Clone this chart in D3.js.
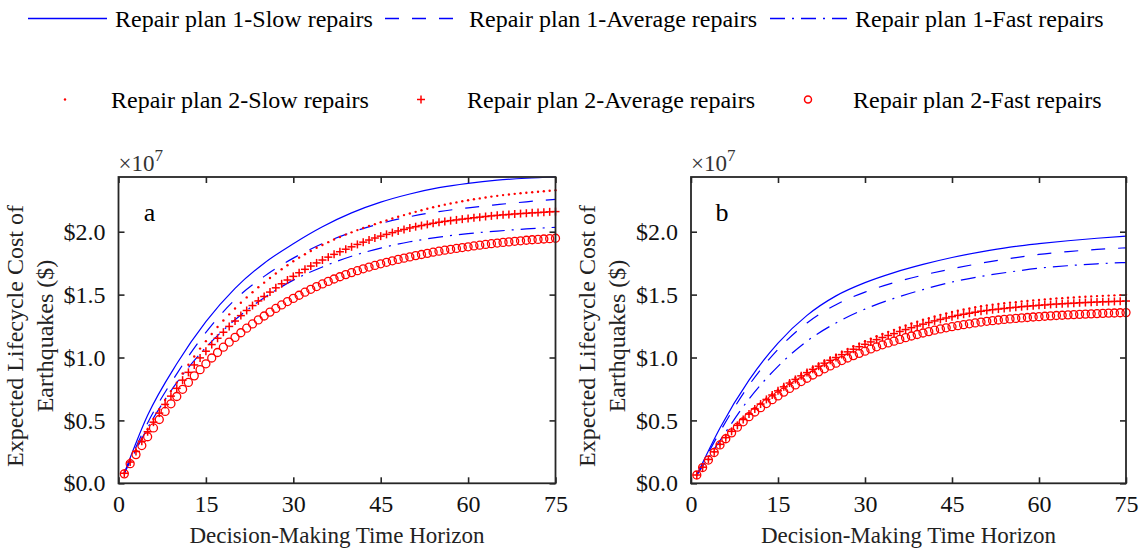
<!DOCTYPE html>
<html>
<head>
<meta charset="utf-8">
<script src="https://cdn.jsdelivr.net/npm/d3@7"></script>
<style>
  html, body { margin: 0; padding: 0; background: #fff; }
  svg { display: block; }
  svg text { font-family: "Liberation Serif", "Times New Roman", serif; fill: #000; }
</style>
</head>
<body>
<svg id="chart" width="1143" height="552"></svg>
<script>
// Expected lifecycle cost of earthquakes (units of 1e7 $) versus decision-making time horizon.
// Plan 1 curves are sampled every five years; plan 2 curves are given for every year.

const lineYears = [1, 5, 10, 15, 20, 25, 30, 35, 40, 45, 50, 55, 60, 65, 70, 75];
const markerYears = d3.range(1, 76);

const xTicks = [0, 15, 30, 45, 60, 75];
const yTicks = [0, 0.5, 1.0, 1.5, 2.0];
const yMax = 2.435;

// ---- Panel a ----
const plan1SlowA    = [0.080, 0.540, 0.950, 1.285, 1.550, 1.750, 1.905, 2.040, 2.150, 2.235, 2.300, 2.350, 2.385, 2.410, 2.425, 2.435];
const plan1AverageA = [0.080, 0.480, 0.870, 1.200, 1.460, 1.645, 1.790, 1.905, 1.995, 2.065, 2.120, 2.160, 2.190, 2.215, 2.238, 2.257];
const plan1FastA    = [0.080, 0.440, 0.800, 1.080, 1.300, 1.475, 1.615, 1.720, 1.805, 1.870, 1.920, 1.957, 1.985, 2.005, 2.022, 2.035];

const plan2SlowA = [
  0.080,0.175,0.264,0.350,0.430,0.511,0.589,0.663,0.733,0.800,
  0.873,0.942,1.008,1.071,1.130,1.187,1.242,1.294,1.343,1.390,
  1.435,1.478,1.519,1.558,1.595,1.632,1.668,1.702,1.734,1.765,
  1.794,1.821,1.847,1.872,1.895,1.917,1.938,1.958,1.977,1.995,
  2.013,2.029,2.045,2.060,2.075,2.090,2.105,2.119,2.132,2.145,
  2.158,2.171,2.183,2.194,2.205,2.215,2.224,2.233,2.242,2.250,
  2.258,2.265,2.272,2.279,2.285,2.291,2.296,2.301,2.306,2.310,
  2.314,2.318,2.322,2.326,2.330];
const plan2AverageA = [
  0.080,0.169,0.253,0.334,0.410,0.486,0.558,0.627,0.693,0.755,
  0.820,0.882,0.941,0.997,1.050,1.103,1.153,1.201,1.247,1.290,
  1.333,1.374,1.413,1.450,1.485,1.520,1.554,1.586,1.616,1.645,
  1.674,1.701,1.727,1.752,1.775,1.798,1.820,1.841,1.861,1.880,
  1.899,1.917,1.934,1.950,1.965,1.979,1.993,2.006,2.018,2.030,
  2.040,2.049,2.058,2.067,2.075,2.082,2.088,2.094,2.100,2.105,
  2.111,2.116,2.121,2.126,2.130,2.134,2.137,2.141,2.144,2.147,
  2.150,2.152,2.155,2.158,2.160];
const plan2FastA = [
  0.075,0.156,0.228,0.300,0.370,0.440,0.507,0.571,0.632,0.690,
  0.747,0.802,0.854,0.903,0.950,0.996,1.040,1.082,1.122,1.160,
  1.197,1.233,1.267,1.299,1.330,1.361,1.390,1.418,1.445,1.470,
  1.495,1.519,1.542,1.564,1.585,1.605,1.624,1.642,1.659,1.675,
  1.690,1.705,1.719,1.732,1.745,1.757,1.769,1.780,1.790,1.800,
  1.810,1.819,1.828,1.837,1.845,1.853,1.860,1.867,1.874,1.880,
  1.887,1.893,1.899,1.905,1.910,1.915,1.919,1.924,1.928,1.932,
  1.936,1.939,1.942,1.945,1.948];

// ---- Panel b ----
const plan1SlowB    = [0.066, 0.440, 0.820, 1.115, 1.335, 1.490, 1.595, 1.675, 1.740, 1.795, 1.840, 1.878, 1.905, 1.928, 1.948, 1.965];
const plan1AverageB = [0.066, 0.410, 0.780, 1.065, 1.275, 1.420, 1.520, 1.595, 1.655, 1.705, 1.750, 1.787, 1.820, 1.842, 1.859, 1.872];
const plan1FastB    = [0.066, 0.340, 0.670, 0.930, 1.130, 1.275, 1.385, 1.470, 1.540, 1.600, 1.645, 1.680, 1.710, 1.730, 1.745, 1.755];

const plan2SlowB = [
  0.066,0.128,0.190,0.250,0.310,0.364,0.415,0.464,0.511,0.555,
  0.597,0.637,0.675,0.711,0.745,0.778,0.809,0.839,0.868,0.895,
  0.922,0.948,0.973,0.997,1.020,1.044,1.067,1.089,1.110,1.130,
  1.150,1.169,1.187,1.204,1.220,1.238,1.254,1.270,1.285,1.300,
  1.313,1.327,1.339,1.351,1.362,1.372,1.382,1.390,1.399,1.407,
  1.413,1.420,1.425,1.431,1.436,1.440,1.446,1.450,1.454,1.458,
  1.461,1.466,1.469,1.472,1.475,1.477,1.481,1.483,1.486,1.488,
  1.490,1.492,1.494,1.496,1.498];
const plan2AverageB = [
  0.066,0.128,0.190,0.250,0.310,0.363,0.413,0.461,0.507,0.550,
  0.591,0.630,0.667,0.702,0.735,0.767,0.797,0.826,0.854,0.880,
  0.906,0.931,0.955,0.978,1.000,1.023,1.045,1.066,1.086,1.105,
  1.124,1.142,1.159,1.175,1.190,1.207,1.222,1.237,1.251,1.265,
  1.278,1.291,1.303,1.314,1.325,1.335,1.344,1.352,1.360,1.368,
  1.374,1.380,1.385,1.390,1.395,1.399,1.404,1.408,1.411,1.415,
  1.418,1.422,1.425,1.427,1.430,1.432,1.435,1.437,1.439,1.441,
  1.443,1.444,1.446,1.447,1.449];
const plan2FastB = [
  0.066,0.125,0.185,0.245,0.305,0.354,0.401,0.446,0.489,0.530,
  0.567,0.601,0.634,0.665,0.695,0.725,0.754,0.782,0.809,0.835,
  0.861,0.886,0.910,0.933,0.955,0.976,0.996,1.015,1.033,1.050,
  1.068,1.085,1.101,1.116,1.130,1.144,1.158,1.171,1.183,1.195,
  1.206,1.217,1.227,1.236,1.245,1.253,1.261,1.268,1.275,1.282,
  1.288,1.293,1.298,1.303,1.307,1.311,1.315,1.318,1.322,1.325,
  1.328,1.331,1.334,1.336,1.339,1.341,1.343,1.345,1.347,1.349,
  1.351,1.353,1.354,1.356,1.357];

const legendLabels = [
  "Repair plan 1-Slow repairs", "Repair plan 1-Average repairs", "Repair plan 1-Fast repairs",
  "Repair plan 2-Slow repairs", "Repair plan 2-Average repairs", "Repair plan 2-Fast repairs"
];
const panelLetters = ["a", "b"];
const yTitleLines = ["Expected Lifecycle Cost of", "Earthquakes ($)"];
const xTitle = "Decision-Making Time Horizon";

// ---- styles ----
const SERIF = "'Liberation Serif', 'Times New Roman', serif";
const BLUE = "#0000ff";
const RED = "#ff0000";
const AXIS = "#262626";
const lineStyles = [
  { dash: null },
  { dash: "14,13" },
  { dash: "15,7,2,7" }
];

const svg = d3.select("#chart");

const panels = [
  { letter: panelLetters[0], left: 118.5, right: 555.5,
    lines: [plan1SlowA, plan1AverageA, plan1FastA],
    marks: [plan2SlowA, plan2AverageA, plan2FastA] },
  { letter: panelLetters[1], left: 691, right: 1126,
    lines: [plan1SlowB, plan1AverageB, plan1FastB],
    marks: [plan2SlowB, plan2AverageB, plan2FastB] }
];
const plotTop = 177, plotBottom = 483.3;

function drawPlus(sel, size) {
  sel.append("line").attr("x1", -size).attr("x2", size).attr("y1", 0).attr("y2", 0);
  sel.append("line").attr("x1", 0).attr("x2", 0).attr("y1", -size).attr("y2", size);
}

panels.forEach(p => {
  const x = d3.scaleLinear().domain([0, 75]).range([p.left, p.right]);
  const y = d3.scaleLinear().domain([0, yMax]).range([plotBottom, plotTop]);
  const g = svg.append("g");

  // axes with inward ticks on all four sides
  const tickLen = 6;
  const axB = g.append("g").attr("transform", `translate(0,${plotBottom})`)
    .call(d3.axisBottom(x).tickValues(xTicks).tickSizeInner(-tickLen).tickSizeOuter(0).tickPadding(14).tickFormat(d3.format("d")));
  const axT = g.append("g").attr("transform", `translate(0,${plotTop})`)
    .call(d3.axisTop(x).tickValues(xTicks).tickSizeInner(-tickLen).tickSizeOuter(0).tickFormat(""));
  const axL = g.append("g").attr("transform", `translate(${p.left},0)`)
    .call(d3.axisLeft(y).tickValues(yTicks).tickSizeInner(-tickLen).tickSizeOuter(0).tickPadding(13).tickFormat(d => "$" + d.toFixed(1)));
  const axR = g.append("g").attr("transform", `translate(${p.right},0)`)
    .call(d3.axisRight(y).tickValues(yTicks).tickSizeInner(-tickLen).tickSizeOuter(0).tickFormat(""));
  [axB, axT, axL, axR].forEach(a => {
    a.attr("font-family", null).attr("font-size", null);
    a.select(".domain").remove();
    a.selectAll(".tick line").attr("stroke", AXIS).attr("stroke-width", 1.6);
    a.selectAll(".tick text").style("font-family", SERIF)
      .style("font-size", "24px").style("fill", "#111");
  });
  axB.selectAll(".tick text").attr("dy", "0.62em");

  // plan 1: blue lines
  const line = d3.line().x((d, i) => x(lineYears[i])).y(d => y(d)).curve(d3.curveMonotoneX);
  p.lines.forEach((vals, k) => {
    g.append("path").datum(vals)
      .attr("d", line)
      .attr("fill", "none")
      .attr("stroke", BLUE)
      .attr("stroke-width", 1.2)
      .attr("stroke-dasharray", lineStyles[k].dash);
  });

  // plan 2: red markers at every year
  g.append("g").selectAll("circle").data(p.marks[0]).join("circle")
    .attr("cx", (d, i) => x(markerYears[i])).attr("cy", d => y(d))
    .attr("r", 1.2).attr("fill", RED);
  g.append("g").attr("stroke", RED).attr("stroke-width", 1.5)
    .selectAll("g").data(p.marks[1]).join("g")
    .attr("transform", (d, i) => `translate(${x(markerYears[i])},${y(d)})`)
    .each(function () { drawPlus(d3.select(this), 4); });
  g.append("g").selectAll("circle").data(p.marks[2]).join("circle")
    .attr("cx", (d, i) => x(markerYears[i])).attr("cy", d => y(d))
    .attr("r", 4).attr("fill", "none").attr("stroke", RED).attr("stroke-width", 1.3);

  // frame
  g.append("rect").attr("x", p.left).attr("y", plotTop)
    .attr("width", p.right - p.left).attr("height", plotBottom - plotTop)
    .attr("fill", "none").attr("stroke", AXIS).attr("stroke-width", 1.8);

  // exponent label
  const ex = g.append("text").attr("x", p.left).attr("y", plotTop - 6)
    .style("font-family", SERIF).style("font-size", "23px").style("fill", "#333");
  ex.append("tspan").text("\u00d710");
  ex.append("tspan").attr("dy", -10).style("font-size", "17px").text("7");

  // panel letter
  g.append("text").attr("x", p.left + 31).attr("y", 221).attr("text-anchor", "middle")
    .style("font-family", SERIF).style("font-size", "26px").text(p.letter);

  // axis titles
  g.append("text").attr("x", (p.left + p.right) / 2).attr("y", 543)
    .attr("text-anchor", "middle")
    .style("font-family", SERIF).style("font-size", "23px").style("fill", "#222").text(xTitle);
  const cy = 336;
  yTitleLines.forEach((t, i) => {
    g.append("text")
      .attr("transform", `translate(${p.left - 96 + i * 30},${cy}) rotate(-90)`)
      .attr("text-anchor", "middle")
      .style("font-family", SERIF).style("font-size", "24px").style("fill", "#222").text(t);
  });
});

// ---- legend ----
const leg = svg.append("g");
const row1 = [{ x0: 28, x1: 107, tx: 115 }, { x0: 385, x1: 462, tx: 469 }, { x0: 770, x1: 848, tx: 855 }];
row1.forEach((r, k) => {
  leg.append("line").attr("x1", r.x0).attr("x2", r.x1).attr("y1", 18.5).attr("y2", 18.5)
    .attr("stroke", BLUE).attr("stroke-width", 1.3).attr("stroke-dasharray", lineStyles[k].dash);
  leg.append("text").attr("x", r.tx).attr("y", 26.5)
    .style("font-family", SERIF).style("font-size", "24px").text(legendLabels[k]);
});
const row2 = [{ mx: 65, tx: 111 }, { mx: 421, tx: 467 }, { mx: 808, tx: 853 }];
const my = 99.5;
leg.append("circle").attr("cx", row2[0].mx).attr("cy", my).attr("r", 1.2).attr("fill", RED);
drawPlus(leg.append("g").attr("transform", `translate(${row2[1].mx},${my})`)
  .attr("stroke", RED).attr("stroke-width", 1.5), 4);
leg.append("circle").attr("cx", row2[2].mx).attr("cy", my).attr("r", 3.5)
  .attr("fill", "none").attr("stroke", RED).attr("stroke-width", 1.5);
row2.forEach((r, k) => {
  leg.append("text").attr("x", r.tx).attr("y", 108)
    .style("font-family", SERIF).style("font-size", "24px").text(legendLabels[3 + k]);
});
</script>
</body>
</html>
